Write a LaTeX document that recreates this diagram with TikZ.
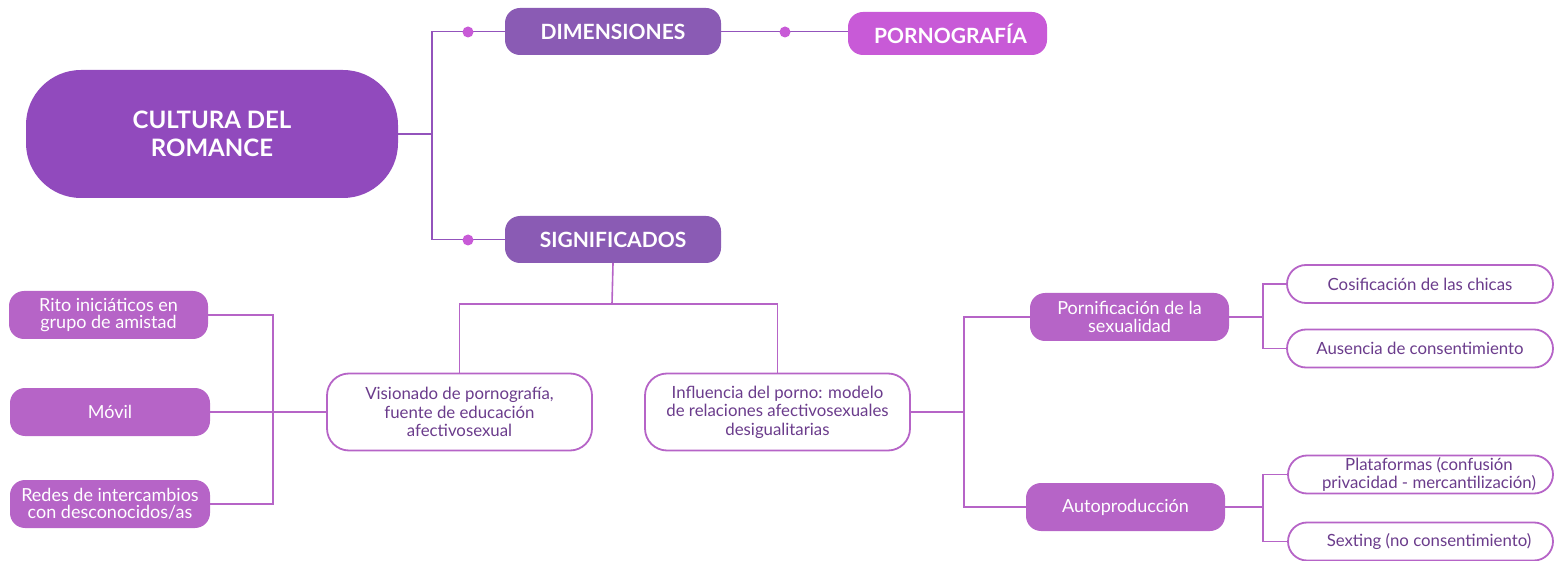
\documentclass[tikz,border=0pt]{standalone}
\usepackage{fontspec}
\setmainfont{Lato}
\definecolor{cmain}{HTML}{914ABD}
\definecolor{cdim}{HTML}{8A5BB4}
\definecolor{cpink}{HTML}{C85AD7}
\definecolor{clight}{HTML}{B664C7}
\definecolor{ctext}{HTML}{6B3C8C}
\definecolor{cline}{HTML}{9353BC}
\begin{document}
\begin{tikzpicture}[x=1pt,y=-1pt,
  base/.style={rectangle, inner sep=0pt, align=center},
  solidbox/.style={base, fill=clight, text=white, rounded corners=15pt,
    font=\fontsize{18}{17.5}\selectfont},
  headbox/.style={base, fill=cdim, text=white, rounded corners=15pt,
    minimum width=216pt, minimum height=47pt,
    font=\fontsize{21}{24}\selectfont\bfseries},
  outbox/.style={base, fill=white, draw=clight, line width=1.8pt, text=ctext},
  bigbox/.style={outbox, rounded corners=22pt, minimum width=265pt, minimum height=77pt,
    font=\fontsize{16.8}{18.5}\selectfont},
  pillbox/.style={outbox, rounded corners=19pt, minimum width=266pt, minimum height=38pt,
    font=\fontsize{16.8}{18}\selectfont},
  pilltext/.style={base, text=ctext, font=\fontsize{16.8}{18}\selectfont},
  topline/.style={draw=cline, line width=1.8pt},
  subline/.style={draw=clight, line width=1.6pt},
  dot/.style={circle, fill=cpink, inner sep=0pt, minimum size=11pt}
]
\useasboundingbox (0,0) rectangle (1564,561);

% main nodes
\node[base, fill=cmain, text=white, rounded corners=55pt, minimum width=372pt, minimum height=128pt,
  font=\fontsize{24}{28.5}\selectfont\bfseries] (cult) at (212,134) {CULTURA DEL\\ROMANCE};
\node[headbox] (dim) at (613,31.5) {DIMENSIONES};
\node[base, fill=cpink, rounded corners=15pt, minimum width=199pt, minimum height=43pt] (porn) at (947.5,33.5) {};
\node[base, text=white, font=\fontsize{21}{24}\selectfont\bfseries] (porntxt) at ([xshift=3pt]porn.center) {PORNOGRAFÍA};
\node[headbox] (sig) at (613,239.5) {SIGNIFICADOS};

% second level
\node[bigbox] (vis) at (459.5,412) {Visionado de pornografía,\\fuente de educación\\afectivosexual};
\node[bigbox] (inf) at (777.5,412) {Influencia del porno: modelo\\de relaciones afectivosexuales\\desigualitarias};

% left
\node[solidbox, minimum width=199pt, minimum height=48pt] (rito) at (108.5,315) {Rito iniciáticos en\\grupo de amistad};
\node[solidbox, minimum width=200pt, minimum height=48pt] (movil) at (110,412) {Móvil};
\node[solidbox, minimum width=200pt, minimum height=48pt] (redes) at (110,504) {Redes de intercambios\\con desconocidos/as};

% right
\node[solidbox, minimum width=199pt, minimum height=48pt] (pornif) at (1129.5,317) {Pornificación de la\\sexualidad};
\node[solidbox, minimum width=199pt, minimum height=48pt] (auto) at (1125.5,507) {Autoproducción};

\node[pillbox] (cos) at (1420,284) {Cosificación de las chicas};
\node[pillbox] (aus) at (1420,348.5) {Ausencia de consentimiento};
\node[pillbox, minimum width=265pt] (plat) at (1420.5,474.5) {};
\node[pilltext] (plattxt) at ([xshift=8.5pt]plat.center) {Plataformas (confusión\\privacidad - mercantilización)};
\node[pillbox, minimum width=265pt] (sext) at (1420.5,541.5) {};
\node[pilltext] (sexttxt) at ([xshift=8.5pt]sext.center) {Sexting (no consentimiento)};

% junctions
\coordinate (j1) at (432,134);
\coordinate (j2) at (612,304);
\coordinate (j3) at (273,412);
\coordinate (j4) at (964,412);
\coordinate (j5) at (1263,317);
\coordinate (j6) at (1263,507);

% top connectors
\draw[topline] (cult.east) -- (j1);
\draw[topline] (dim.west) -| (j1);
\draw[topline] (sig.west) -| (j1);
\draw[topline] (dim.east) -- (dim.east -| porn.west);
\node[dot] (d1) at (468,32) {};
\node[dot] (d2) at (468,240) {};
\node[dot] (d3) at (785,32) {};

% lower connectors
\draw[subline] (sig.south) -- (j2);
\draw[subline] (j2) -| (vis.north);
\draw[subline] (j2) -| (inf.north);

\draw[subline] (vis.west) -- (j3);
\draw[subline] (rito.east) -| (j3);
\draw[subline] (movil.east) -- (j3);
\draw[subline] (redes.east) -| (j3);

\draw[subline] (inf.east) -- (j4);
\draw[subline] (pornif.west) -| (j4);
\draw[subline] (auto.west) -| (j4);

\draw[subline] (pornif.east) -- (j5);
\draw[subline] (cos.west) -| (j5);
\draw[subline] (aus.west) -| (j5);

\draw[subline] (auto.east) -- (j6);
\draw[subline] (plat.west) -| (j6);
\draw[subline] (sext.west) -| (j6);
\end{tikzpicture}
\end{document}
